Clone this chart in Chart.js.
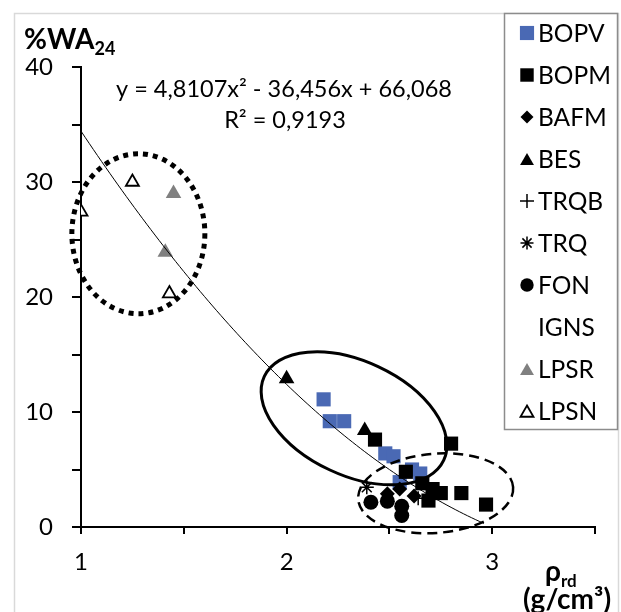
<!DOCTYPE html>
<html>
<head>
<meta charset="utf-8">
<script src="https://cdn.jsdelivr.net/npm/chart.js@4.4.1/dist/chart.umd.min.js"></script>
<style>
  html, body { margin: 0; padding: 0; background: #fff; }
  #c { display: block; }
</style>
</head>
<body>
<canvas id="c" width="621" height="612"></canvas>
<script>
// --- data: [rho_rd, %WA24] ---
const BOPV = [[2.18, 11.1], [2.21, 9.2], [2.28, 9.2], [2.48, 6.4], [2.52, 6.15], [2.61, 5.0], [2.65, 4.65], [2.55, 3.9]];
const BOPM = [[2.43, 7.6], [2.80, 7.25], [2.58, 4.8], [2.66, 3.8], [2.71, 3.3], [2.75, 2.95], [2.69, 2.3], [2.85, 2.95], [2.97, 1.95]];
const BAFM = [[2.49, 2.9], [2.55, 3.3], [2.62, 2.7]];
const BES = [[2.0, 12.9], [2.38, 8.4]];
const TRQB = [[2.64, 2.5]];
const TRQ = [[2.39, 3.45]];
const FON = [[2.41, 2.15], [2.49, 2.25], [2.56, 1.8], [2.56, 1.0]];
const IGNS = [];
const LPSR = [[1.45, 29.0], [1.41, 23.9]];
const LPSN = [[1.0, 27.4], [1.25, 30.0], [1.43, 20.3]];

// polynomial trend line as printed on the chart
const trendCoef = [4.8107, -36.456, 66.068];
const trendRange = [1, 2.96];
const equationText = 'y = 4,8107x\u00b2 - 36,456x + 66,068';
const r2Text = 'R\u00b2 = 0,9193';

const legendLabels = ['BOPV', 'BOPM', 'BAFM', 'BES', 'TRQB', 'TRQ', 'FON', 'IGNS', 'LPSR', 'LPSN'];
const xTicks = { min: 1, max: 3.5, step: 0.5 };
const yTicks = { min: 0, max: 40, step: 5 };

const FONT = 'Lato, "Open Sans", sans-serif';
const BLUE = '#4a69b4';
const GREY = '#808080';

function toPts(arr) { return arr.map(p => ({ x: p[0], y: p[1] })); }

function trendPoints() {
    const pts = [];
    for (let x = trendRange[0]; x <= trendRange[1] + 1e-9; x += 0.02) {
        pts.push({ x: x, y: trendCoef[0] * x * x + trendCoef[1] * x + trendCoef[2] });
    }
    return pts;
}

// marker style per series (used for the plot and for the hand-drawn legend)
const styles = {
    BOPV: { pointStyle: 'rect', radius: 10, bg: BLUE, border: BLUE, bw: 0, lr: 10 },
    BOPM: { pointStyle: 'rect', radius: 10, bg: '#000', border: '#000', bw: 0, lr: 9.5 },
    BAFM: { pointStyle: 'rectRot', radius: 7.5, bg: '#000', border: '#000', bw: 0, lr: 6.5 },
    BES: { pointStyle: 'triangle', radius: 9, bg: '#000', border: '#000', bw: 0, lr: 8 },
    TRQB: { pointStyle: 'cross', radius: 7, bg: '#000', border: '#000', bw: 1.5, lr: 7 },
    TRQ: { pointStyle: 'star', radius: 7, bg: '#000', border: '#000', bw: 1.5, lr: 6.5 },
    FON: { pointStyle: 'circle', radius: 7.5, bg: '#000', border: '#000', bw: 0, lr: 6.7 },
    IGNS: null,
    LPSR: { pointStyle: 'triangle', radius: 9, bg: GREY, border: GREY, bw: 0, lr: 8 },
    LPSN: { pointStyle: 'triangle', radius: 7.5, bg: '#fff', border: '#000', bw: 1.8, lr: 7.5 }
};
const seriesData = { BOPV, BOPM, BAFM, BES, TRQB, TRQ, FON, IGNS, LPSR, LPSN };
const drawOrder = { BOPV: 9, BOPM: 3, BAFM: 4, BES: 2, TRQB: 1, TRQ: 5, FON: 6, IGNS: 7, LPSR: 8, LPSN: 8 };

const datasets = legendLabels.filter(l => styles[l]).map(l => ({
    label: l,
    data: toPts(seriesData[l]),
    pointStyle: styles[l].pointStyle,
    pointRadius: styles[l].radius,
    pointHoverRadius: styles[l].radius,
    backgroundColor: styles[l].bg,
    borderColor: styles[l].border,
    borderWidth: styles[l].bw,
    order: drawOrder[l]
}));
datasets.push({
    label: 'trend',
    data: trendPoints(),
    showLine: true,
    borderColor: '#000',
    borderWidth: 1,
    pointRadius: 0,
    tension: 0,
    order: 0
});

// ellipses marking the groups, centre in data units, axes in pixels
const ellipses = [
    { cx: 1.279, cy: 25.5, a: 66.5, b: 80, rot: 0, width: 5, dash: [5, 5] },
    { cx: 2.328, cy: 9.45, a: 99, b: 57, rot: 25, width: 3, dash: [] },
    { cx: 2.725, cy: 2.93, a: 77.7, b: 39.6, rot: -4.6, width: 2.5, dash: [10, 6] }
];

const decorPlugin = {
    id: 'decor',
    afterDatasetsDraw(chart) {
        const ctx = chart.ctx;
        const xs = chart.scales.x, ys = chart.scales.y;
        ctx.save();
        ctx.strokeStyle = '#000';
        ellipses.forEach(e => {
            ctx.beginPath();
            ctx.lineWidth = e.width;
            ctx.setLineDash(e.dash);
            ctx.ellipse(xs.getPixelForValue(e.cx), ys.getPixelForValue(e.cy), e.a, e.b, e.rot * Math.PI / 180, 0, Math.PI * 2);
            ctx.stroke();
        });
        ctx.restore();
    },
    afterDraw(chart) {
        const ctx = chart.ctx;
        ctx.save();
        // outer frame
        ctx.strokeStyle = '#d9d9d9';
        ctx.lineWidth = 1.5;
        ctx.strokeRect(14.5, 13.5, 604, 640);

        // equation
        ctx.fillStyle = '#000';
        ctx.textAlign = 'center';
        ctx.textBaseline = 'alphabetic';
        ctx.font = '23.5px ' + FONT;
        ctx.fillText(equationText, 284, 97);
        ctx.fillText(r2Text, 285, 128);

        // y title
        ctx.textAlign = 'left';
        ctx.font = 'bold 28px ' + FONT;
        ctx.fillText('%WA', 24, 49);
        let w = ctx.measureText('%WA').width;
        ctx.font = 'bold 18px ' + FONT;
        ctx.fillText('24', 24 + w, 55);

        // x title
        ctx.font = 'bold 28px ' + FONT;
        ctx.fillText('\u03c1', 545, 581);
        w = ctx.measureText('\u03c1').width;
        ctx.font = 'bold 17px ' + FONT;
        ctx.fillText('rd', 545 + w, 587);
        ctx.textAlign = 'center';
        ctx.font = 'bold 28px ' + FONT;
        ctx.fillText('(g/cm\u00b3)', 567, 609);

        // legend
        ctx.fillStyle = '#fff';
        ctx.fillRect(504, 13, 114, 417);
        ctx.strokeStyle = '#8c8c8c';
        ctx.lineWidth = 1.5;
        ctx.strokeRect(504.5, 13.5, 113, 416);
        ctx.font = '24.5px ' + FONT;
        ctx.textAlign = 'left';
        ctx.textBaseline = 'middle';
        legendLabels.forEach((l, i) => {
            const y = 33 + i * 42;
            const s = styles[l];
            if (s) {
                ctx.fillStyle = s.bg;
                ctx.strokeStyle = s.border;
                ctx.lineWidth = s.bw > 0 ? s.bw : 0.01;
                ctx.setLineDash([]);
                Chart.helpers.drawPoint(ctx, { pointStyle: s.pointStyle, radius: s.lr, borderWidth: s.bw, rotation: 0 }, 527, y + (s.pointStyle === 'triangle' ? 2 : 0));
            }
            ctx.fillStyle = '#000';
            ctx.fillText(l, 538, y + 1);
        });
        ctx.restore();
    }
};

new Chart(document.getElementById('c'), {
    type: 'scatter',
    data: { datasets: datasets },
    options: {
        responsive: false,
        animation: false,
        devicePixelRatio: 1,
        layout: { padding: { left: 0, top: 67, right: 26, bottom: 0 } },
        plugins: { legend: { display: false }, tooltip: { enabled: false } },
        scales: {
            x: {
                type: 'linear',
                min: xTicks.min,
                max: xTicks.max,
                afterFit: s => { s.height = 85; },
                ticks: {
                    stepSize: xTicks.step,
                    autoSkip: false,
                    maxRotation: 0,
                    color: '#000',
                    font: { family: FONT, size: 24 },
                    padding: 14,
                    callback: v => Number.isInteger(v) && v < xTicks.max ? String(v) : ''
                },
                grid: { drawOnChartArea: false, drawTicks: true, tickLength: 7, color: '#000', lineWidth: 2 },
                border: { display: true, color: '#000', width: 2 }
            },
            y: {
                min: yTicks.min,
                max: yTicks.max,
                afterFit: s => { s.width = 81; },
                ticks: {
                    stepSize: yTicks.step,
                    autoSkip: false,
                    color: '#000',
                    font: { family: FONT, size: 24 },
                    padding: 19,
                    callback: v => v % 10 === 0 ? String(v) : ''
                },
                grid: { drawOnChartArea: false, drawTicks: true, tickLength: 9, color: '#000', lineWidth: 2 },
                border: { display: true, color: '#000', width: 2 }
            }
        }
    },
    plugins: [decorPlugin]
});
</script>
</body>
</html>
